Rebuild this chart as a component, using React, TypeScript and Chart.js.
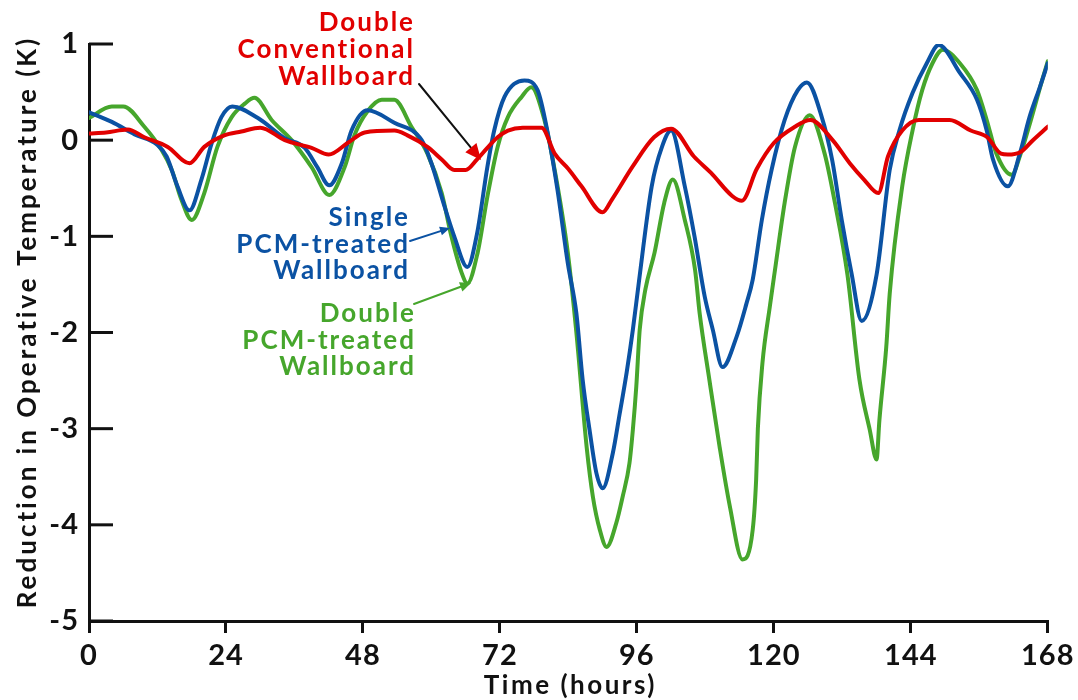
import React, { useEffect, useRef } from 'react';
import { Chart, registerables } from 'chart.js';

Chart.register(...registerables);

// ---------- data ----------
const redHours = [0, 3, 6.8, 9.7, 13.8, 17.6, 20.2, 23.7, 26.7, 30, 34.3, 39, 42, 45.3, 48.3, 53.5, 55.8, 59.3, 61.8, 64, 66, 68, 69.8, 71.6, 73.4, 76, 79.3, 81.6, 84, 86.3, 90, 91.6, 95.3, 99, 102, 106, 109, 112.7, 114.4, 117, 120, 123.7, 126.4, 130.3, 133.3, 135.8, 138.3, 140, 142.5, 145.4, 150.8, 154.5, 157.4, 159.8, 161, 163.3, 165.4, 168];
const redValues = [0.07, 0.08, 0.11, 0.03, -0.07, -0.24, -0.07, 0.05, 0.09, 0.13, 0.0, -0.08, -0.15, -0.03, 0.08, 0.1, 0.05, -0.07, -0.2, -0.31, -0.31, -0.2, -0.08, 0.03, 0.1, 0.13, 0.13, -0.14, -0.3, -0.48, -0.75, -0.62, -0.27, 0.03, 0.12, -0.17, -0.34, -0.58, -0.63, -0.3, -0.03, 0.14, 0.21, 0.0, -0.24, -0.41, -0.55, -0.17, 0.1, 0.21, 0.21, 0.1, 0.03, -0.14, -0.15, -0.12, 0.0, 0.14];

const blueHours = [0, 4, 8, 12, 13.6, 15.5, 17.6, 19.7, 21.5, 23.2, 25.1, 29.6, 34.3, 37.8, 40, 42.1, 44.3, 46, 48.8, 53.5, 58.3, 60, 62.3, 64, 66.3, 68, 69.8, 71, 72.8, 76.3, 78.6, 80.4, 82.1, 83.9, 85.4, 86.5, 87.7, 88.9, 90, 91.8, 93, 94.2, 95.3, 96.3, 98.6, 100.4, 102, 104.4, 106.1, 107.9, 109.3, 111, 113.5, 115.2, 116.3, 117.9, 119.6, 121.9, 124.2, 125.8, 128.4, 130.2, 131.9, 133.6, 135.4, 138, 140.3, 142, 144.3, 146.8, 148.9, 152.6, 155.6, 157.3, 158.4, 161, 163.1, 164.8, 166.6, 168];
const blueValues = [0.29, 0.19, 0.06, -0.05, -0.17, -0.48, -0.73, -0.41, -0.03, 0.24, 0.35, 0.23, 0.02, -0.08, -0.28, -0.47, -0.24, 0.1, 0.31, 0.18, 0.0, -0.24, -0.69, -1.0, -1.32, -0.97, -0.28, 0.1, 0.45, 0.62, 0.52, 0.07, -0.52, -1.28, -1.8, -2.49, -3.01, -3.46, -3.62, -3.25, -2.84, -2.42, -1.97, -1.5, -0.48, -0.07, 0.1, -0.48, -1.0, -1.63, -1.97, -2.36, -2.04, -1.7, -1.45, -0.83, -0.31, 0.21, 0.52, 0.6, 0.24, -0.2, -0.83, -1.38, -1.88, -1.4, -0.31, 0.1, 0.49, 0.8, 0.99, 0.7, 0.42, 0.1, -0.2, -0.48, -0.14, 0.24, 0.55, 0.8];

const greenHours = [0, 4, 6, 9.7, 12.7, 14.5, 16.2, 18, 20.2, 22.5, 25, 27.3, 29, 32, 35.5, 39, 42.1, 44.8, 46.5, 48.8, 51.3, 53.5, 56.5, 59.3, 61.8, 63.5, 65.3, 66.3, 68.1, 69.8, 71.6, 73.4, 75.8, 77.5, 79.8, 81.6, 83.9, 85.4, 87.2, 88.3, 89.5, 90.7, 92.4, 93.5, 94.7, 95.3, 95.9, 96.5, 97.5, 99.1, 100.8, 102.3, 104.4, 106.2, 107, 108.7, 110.5, 112.3, 114.5, 116.3, 116.9, 117.2, 118, 119.3, 120.2, 121.9, 123.7, 126.3, 128.9, 130.7, 132.9, 135, 136.8, 138, 138.5, 139.7, 140.3, 142.5, 144.3, 146, 147.8, 149.6, 152.6, 155.6, 157.3, 159, 161.7, 163.2, 165, 166.8, 168];
const greenValues = [0.23, 0.35, 0.35, 0.14, -0.1, -0.31, -0.62, -0.83, -0.55, -0.07, 0.24, 0.38, 0.44, 0.21, 0.0, -0.28, -0.57, -0.28, 0.05, 0.3, 0.42, 0.42, 0.14, -0.14, -0.55, -1.0, -1.38, -1.49, -1.17, -0.59, -0.07, 0.24, 0.45, 0.55, 0.21, -0.31, -1.17, -2.0, -3.19, -3.71, -4.05, -4.23, -3.98, -3.71, -3.36, -3.01, -2.56, -1.97, -1.55, -1.17, -0.65, -0.41, -0.83, -1.35, -1.8, -2.49, -3.19, -3.81, -4.36, -4.05, -3.53, -3.0, -2.32, -1.73, -1.35, -0.65, -0.07, 0.26, -0.14, -0.65, -1.4, -2.49, -3.01, -3.32, -2.91, -2.15, -1.6, -0.48, 0.1, 0.52, 0.8, 0.94, 0.8, 0.52, 0.21, -0.14, -0.36, -0.15, 0.2, 0.58, 0.82];

const xTickValues = [0, 24, 48, 72, 96, 120, 144, 168];
const yTickValues = [1, 0, -1, -2, -3, -4, -5];

const seriesNames = ['Double Conventional Wallboard', 'Single PCM-treated Wallboard', 'Double PCM-treated Wallboard'];
const redLabel = ['Double', 'Conventional', 'Wallboard'];
const blueLabel = ['Single', 'PCM-treated', 'Wallboard'];
const greenLabel = ['Double', 'PCM-treated', 'Wallboard'];
const xTitle = 'Time (hours)';
const yTitle = 'Reduction in Operative Temperature (K)';

const RED = '#e10000';
const BLUE = '#0b52a3';
const GREEN = '#46a62c';
const INK = '#111111';
const FONT = 'Lato, "Open Sans", "DejaVu Sans", sans-serif';

function toPoints(hours: number[], values: number[]) {
  return hours.map((h, i) => ({ x: h, y: values[i] }));
}

function drawArrow(ctx: CanvasRenderingContext2D, x1: number, y1: number, x2: number, y2: number, lineColor: string, headColor: string, width: number, head: number) {
  const ang = Math.atan2(y2 - y1, x2 - x1);
  const bx = x2 - Math.cos(ang) * head;
  const by = y2 - Math.sin(ang) * head;
  ctx.strokeStyle = lineColor;
  ctx.lineWidth = width;
  ctx.beginPath();
  ctx.moveTo(x1, y1);
  ctx.lineTo(bx, by);
  ctx.stroke();
  ctx.fillStyle = headColor;
  ctx.beginPath();
  ctx.moveTo(x2, y2);
  ctx.lineTo(bx + Math.sin(ang) * head * 0.45, by - Math.cos(ang) * head * 0.45);
  ctx.lineTo(bx - Math.sin(ang) * head * 0.45, by + Math.cos(ang) * head * 0.45);
  ctx.closePath();
  ctx.fill();
}

function drawLines(ctx: CanvasRenderingContext2D, lines: string[], right: number, top: number, step: number, color: string) {
  ctx.fillStyle = color;
  ctx.textAlign = 'right';
  ctx.textBaseline = 'middle';
  lines.forEach((s, i) => ctx.fillText(s, right, top + i * step));
}

const overlayPlugin = {
  id: 'overlay',
  beforeDraw(chart: any) {
    (chart.ctx as any).letterSpacing = '1px';
  },
  beforeDatasetsDraw(chart: any) {
    const ctx = chart.ctx as CanvasRenderingContext2D;
    const ys = chart.scales.y;
    const left = chart.chartArea.left;
    ctx.save();
    ctx.strokeStyle = INK;
    ctx.lineWidth = 3;
    yTickValues.forEach((v) => {
      const py = ys.getPixelForValue(v);
      ctx.beginPath();
      ctx.moveTo(left, py);
      ctx.lineTo(left + 24, py);
      ctx.stroke();
    });
    ctx.restore();
  },
  afterDraw(chart: any) {
    const ctx = chart.ctx as CanvasRenderingContext2D;
    const area = chart.chartArea;
    ctx.save();
    // axis titles
    ctx.fillStyle = INK;
    (ctx as any).letterSpacing = '2.5px';
    ctx.font = `bold 26px ${FONT}`;
    ctx.textAlign = 'center';
    ctx.textBaseline = 'middle';
    ctx.fillText(xTitle, (area.left + area.right) / 2 + 2, 686);
    ctx.save();
    ctx.translate(28, 322);
    ctx.rotate(-Math.PI / 2);
    (ctx as any).letterSpacing = '3px';
    ctx.font = `bold 26px ${FONT}`;
    ctx.fillText(yTitle, 0, 0);
    ctx.restore();

    // annotations
    (ctx as any).letterSpacing = '2px';
    ctx.font = `bold 26px ${FONT}`;
    drawLines(ctx, redLabel, 415, 23, 27, RED);
    drawLines(ctx, blueLabel, 410, 218, 26.5, BLUE);
    drawLines(ctx, greenLabel, 416, 314, 26.5, GREEN);

    ctx.lineCap = 'round';
    drawArrow(ctx, 419, 84, 481, 160, INK, RED, 2, 16);
    drawArrow(ctx, 410, 241, 450, 228, BLUE, BLUE, 2, 10);
    drawArrow(ctx, 414, 304, 471, 283, GREEN, GREEN, 2, 11);
    ctx.restore();
  },
};

export default function App() {
  const canvasRef = useRef<HTMLCanvasElement | null>(null);

  useEffect(() => {
    if (!canvasRef.current) return;
    const lineStyle = {
      borderWidth: 4,
      pointRadius: 0,
      fill: false,
      cubicInterpolationMode: 'monotone' as const,
      borderJoinStyle: 'round' as const,
      borderCapStyle: 'round' as const,
    };
    const chart = new Chart(canvasRef.current, {
      type: 'line',
      data: {
        datasets: [
          { label: seriesNames[0], data: toPoints(redHours, redValues), borderColor: RED, order: 0, ...lineStyle },
          { label: seriesNames[1], data: toPoints(blueHours, blueValues), borderColor: BLUE, order: 1, ...lineStyle },
          { label: seriesNames[2], data: toPoints(greenHours, greenValues), borderColor: GREEN, order: 2, ...lineStyle },
        ],
      },
      options: {
        animation: false,
        responsive: false,
        layout: { padding: { top: 44, right: 30, bottom: 0, left: 0 } },
        plugins: { legend: { display: false }, tooltip: { enabled: false } },
        scales: {
          x: {
            type: 'linear',
            min: 0,
            max: 168,
            afterBuildTicks: (scale: any) => {
              scale.ticks = xTickValues.map((v) => ({ value: v }));
            },
            afterFit: (scale: any) => {
              scale.height = 79;
            },
            grid: { display: true, drawOnChartArea: false, drawTicks: true, tickLength: 12, color: INK, lineWidth: 3 },
            border: { display: true, color: INK, width: 3 },
            ticks: {
              color: INK,
              font: { family: FONT, size: 29, weight: 'bold' },
              padding: 5,
              maxRotation: 0,
              autoSkip: false,
            },
          },
          y: {
            type: 'linear',
            min: -5,
            max: 1,
            afterBuildTicks: (scale: any) => {
              scale.ticks = yTickValues.map((v) => ({ value: v }));
            },
            afterFit: (scale: any) => {
              scale.width = 89;
            },
            grid: { display: false, drawTicks: false },
            border: { display: true, color: INK, width: 3 },
            ticks: {
              color: INK,
              font: { family: FONT, size: 29, weight: 'bold' },
              padding: 10,
              callback: (v: any) => String(v),
            },
          },
        },
      },
      plugins: [overlayPlugin],
    });
    return () => chart.destroy();
  }, []);

  return (
    <div style={{ position: 'absolute', left: 0, top: 0, width: 1078, height: 700, background: '#fff' }}>
      <canvas ref={canvasRef} width={1078} height={700} style={{ display: 'block', width: 1078, height: 700 }} />
    </div>
  );
}
